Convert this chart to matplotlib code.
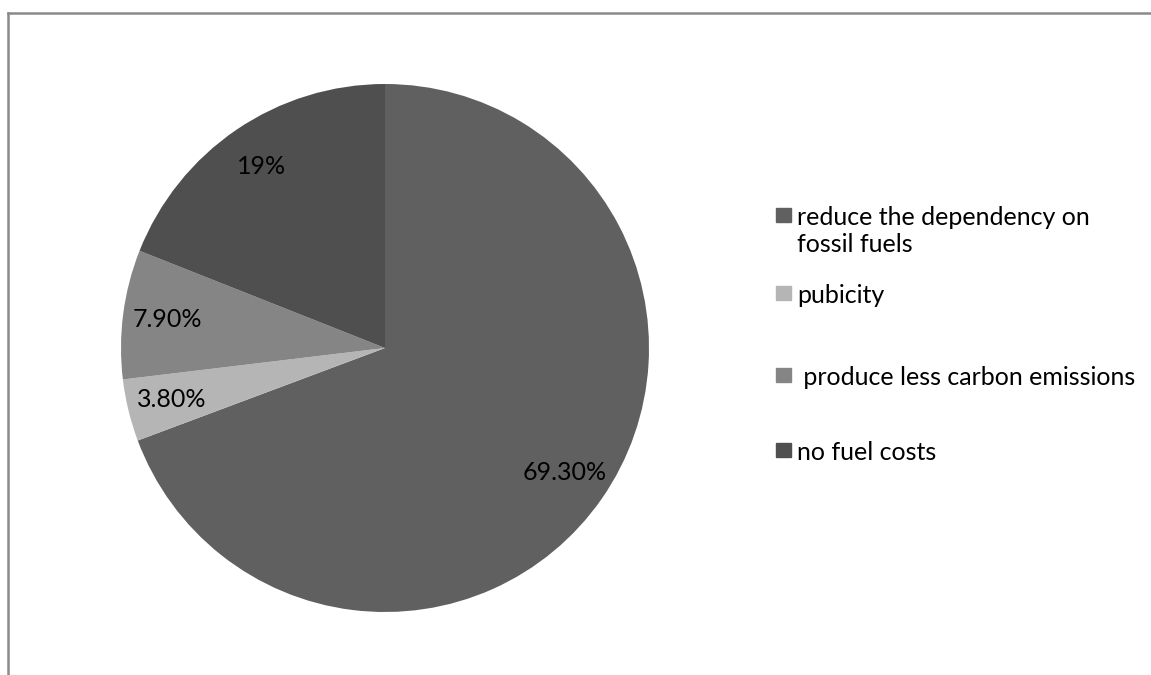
import numpy as np
import matplotlib.pyplot as plt
from matplotlib.patches import Rectangle

labels = ["reduce the dependency on\nfossil fuels", "pubicity",
          " produce less carbon emissions", "no fuel costs"]
values = [69.3, 3.8, 7.9, 19.0]
pct_text = ["69.30%", "3.80%", "7.90%", "19%"]
colors = ["#606060", "#b5b5b5", "#858585", "#4f4f4f"]

plt.rcParams['font.family'] = ['Lato', 'DejaVu Sans']
FS = 18

fig = plt.figure(figsize=(11.51, 6.75), dpi=100)
W, H = 1151, 675

# frame: only left and top edges are visible in the screenshot
fig.add_artist(plt.Line2D([8 / W, 8 / W], [0, 1 - 12.5 / H], color="#8a8a8a", lw=1.8))
fig.add_artist(plt.Line2D([8 / W, 1], [1 - 12.5 / H, 1 - 12.5 / H], color="#8a8a8a", lw=1.8))

cx, cy, r = 385, 348, 264
ax = fig.add_axes([(cx - r) / W, (H - cy - r) / H, 2 * r / W, 2 * r / H])
wedges, _ = ax.pie(values, colors=colors, startangle=90, counterclock=False,
                   radius=1.0, wedgeprops=dict(linewidth=0))
ax.set_xlim(-1, 1)
ax.set_ylim(-1, 1)
ax.set_aspect('equal')
ax.axis('off')

for w, t in zip(wedges, pct_text):
    ang = np.deg2rad((w.theta1 + w.theta2) / 2)
    d = 0.83
    ax.text(d * np.cos(ang), d * np.sin(ang), t, ha='center', va='center',
            fontsize=FS, color='black')

# hand-made legend to keep the uneven spacing of the original
marker_y = [215, 293, 375, 450]
for lab, c, y in zip(labels, colors, marker_y):
    fig.add_artist(Rectangle((776 / W, 1 - (y + 7) / H), 15 / W, 14 / H,
                             color=c, transform=fig.transFigure))
    fig.text(797 / W, 1 - (y - 9) / H, lab, ha='left', va='top', fontsize=FS,
             linespacing=1.2)

fig.savefig("out.png", dpi=100)
